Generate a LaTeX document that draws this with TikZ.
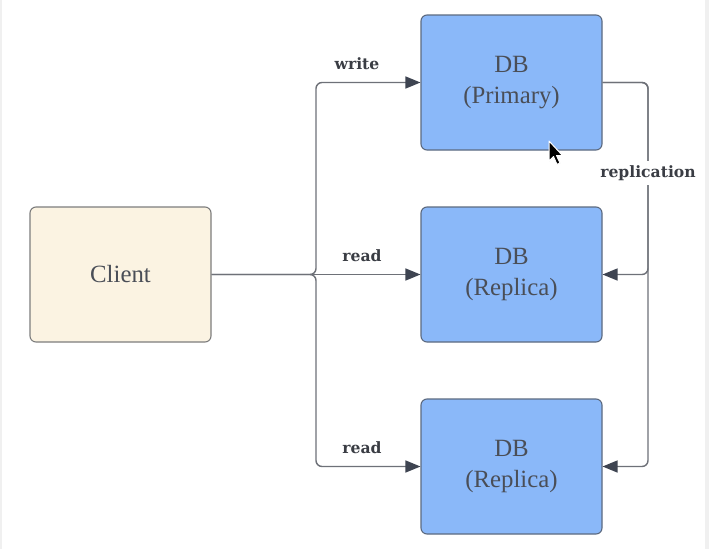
\documentclass[tikz,border=0pt]{standalone}
\usepackage{fontspec}
\setmainfont{Liberation Serif}
\newfontfamily\lblfont{DejaVu Serif}
\usetikzlibrary{arrows.meta}
\definecolor{dbfill}{HTML}{8AB8F9}
\definecolor{dbdraw}{HTML}{5C6A80}
\definecolor{clfill}{HTML}{FBF3E2}
\definecolor{cldraw}{HTML}{7D7D7D}
\definecolor{txtc}{HTML}{4A4E57}
\definecolor{linec}{HTML}{6E7178}
\definecolor{arrc}{HTML}{3E4451}
\definecolor{lblc}{HTML}{3A3D44}
\tikzset{
  box/.style={rounded corners=6pt, minimum width=181pt, minimum height=135pt,
    line width=1.1pt, align=center, text=txtc,
    font=\fontsize{24.8}{31}\selectfont, inner sep=0pt},
  dbbox/.style={box, fill=dbfill, draw=dbdraw},
  clbox/.style={box, fill=clfill, draw=cldraw},
  conn/.style={draw=linec, line width=1.4pt, rounded corners=6pt,
    -{Triangle[length=15pt,width=12pt,color=arrc,fill=arrc]}},
  lbl/.style={text=lblc, font=\lblfont\bfseries\fontsize{15.6}{17}\selectfont, inner sep=1pt}
}
\begin{document}
\begin{tikzpicture}[x=1pt,y=-1pt]
\useasboundingbox (0,0) rectangle (709,549);
\fill[white] (0,0) rectangle (709,549);
\fill[black!6] (0,0) rectangle (2,549);
\fill[black!6] (705,0) rectangle (709,549);

\node[clbox] (client) at (120.5,274.5) {Client};
\node[dbbox] (prim) at (511.5,82.5) {DB\\(Primary)};
\node[dbbox] (rep1) at (511.5,274.5) {DB\\(Replica)};
\node[dbbox] (rep2) at (511.5,466.5) {DB\\(Replica)};

\coordinate (jx) at (316,0);
\coordinate (rx) at (648,0);

\draw[conn] (client.east) -- (client.east -| jx) -- (prim.west -| jx) -- (prim.west);
\draw[conn] (client.east) -- (rep1.west);
\draw[conn] (client.east) -- (client.east -| jx) -- (rep2.west -| jx) -- (rep2.west);

\draw[conn] (prim.east) -- (prim.east -| rx) -- (rep1.east -| rx) -- (rep1.east);
\draw[conn] (prim.east) -- (prim.east -| rx) -- (rep2.east -| rx) -- (rep2.east);

\node[lbl] (lw) at (357,64) {write};
\node[lbl] (lr1) at (362,256) {read};
\node[lbl] (lr2) at (362,448) {read};
\node[lbl, fill=white, inner ysep=4pt] (lrep) at (648,173) {replication};

% mouse pointer
\filldraw[fill=black, draw=white, line width=1pt, line join=round]
  (549,141) -- (549,161) -- (553.5,156.5) -- (557,164.5) -- (560,163) -- (556.5,155.5) -- (562.5,155.5) -- cycle;
\end{tikzpicture}
\end{document}
